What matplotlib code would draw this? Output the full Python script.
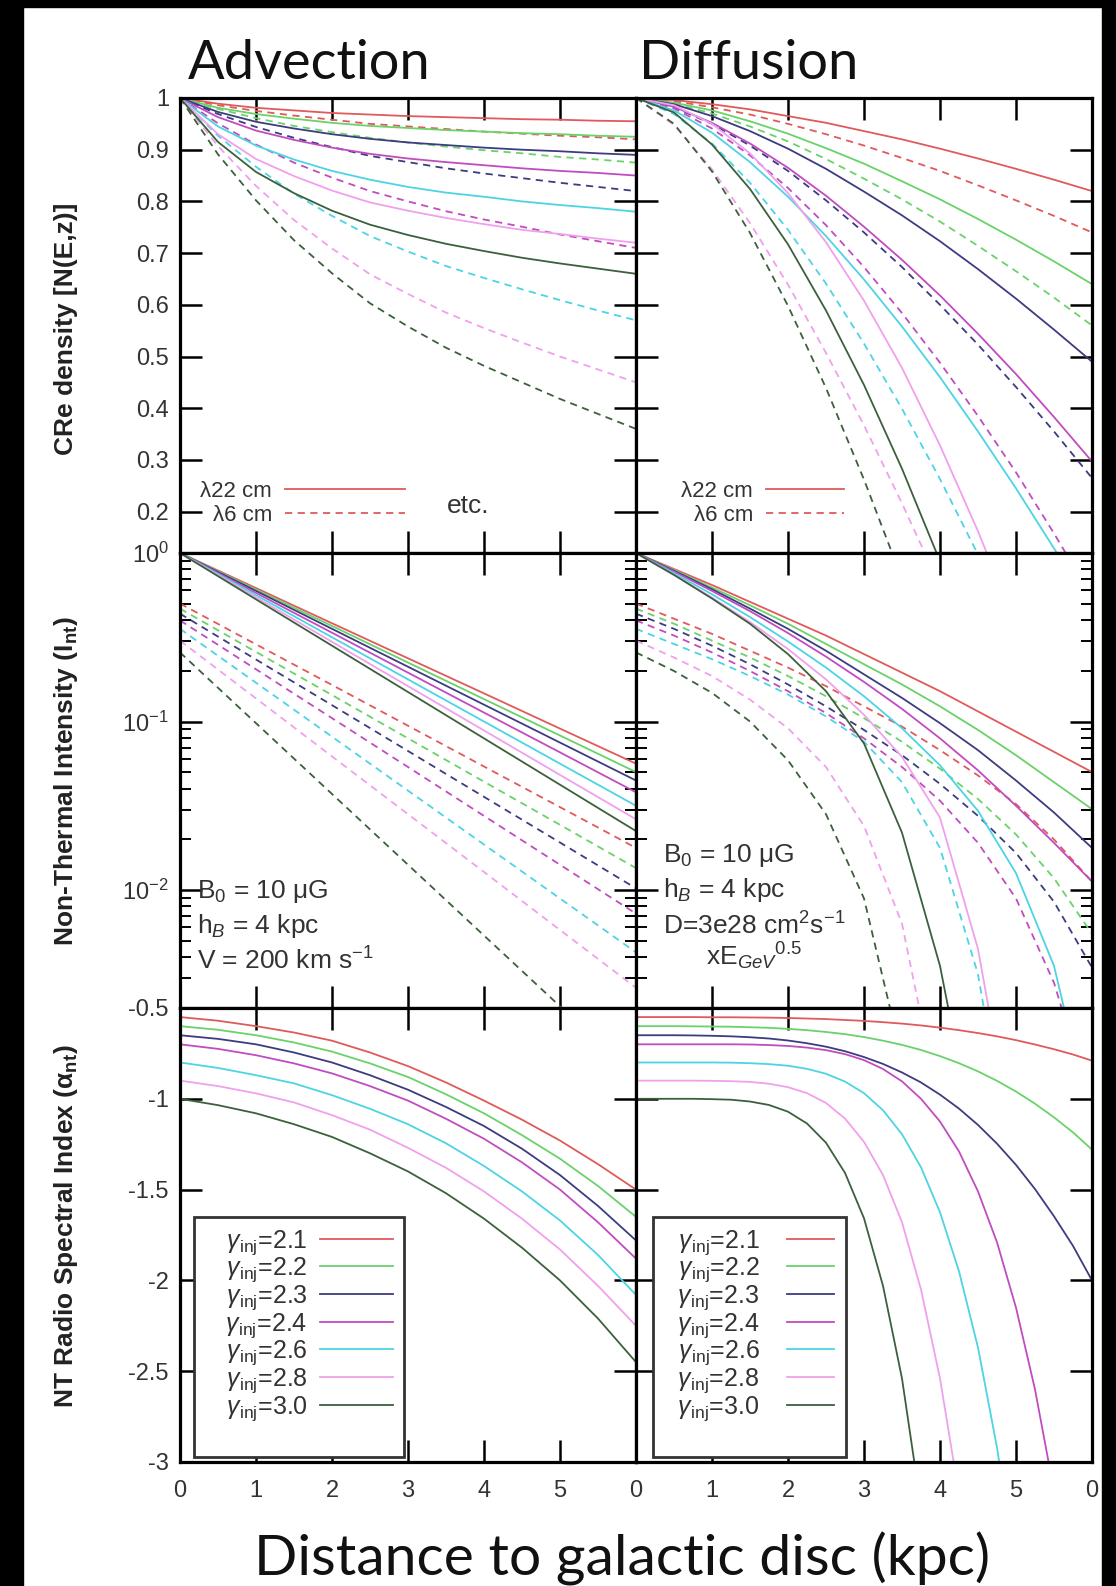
import numpy as np
import matplotlib.pyplot as plt
from matplotlib.lines import Line2D
from matplotlib.patches import Rectangle
from matplotlib.ticker import LogLocator, NullFormatter

plt.rcParams['font.family'] = ['Liberation Sans', 'DejaVu Sans']
plt.rcParams['mathtext.fontset'] = 'custom'
plt.rcParams['mathtext.rm'] = 'Liberation Sans'
plt.rcParams['mathtext.it'] = 'Liberation Sans:italic'
plt.rcParams['mathtext.bf'] = 'Liberation Sans:bold'

# ---- data ----
gammas = ['2.1', '2.2', '2.3', '2.4', '2.6', '2.8', '3.0']
colors = ['#e05a5a', '#6ad26a', '#3c3c80', '#c04cc0', '#4cd4e4', '#f0a0ec', '#3c603c']

z7 = [0, 1, 2, 3, 4, 5, 6]
z13 = [0, 0.5, 1, 1.5, 2, 2.5, 3, 3.5, 4, 4.5, 5, 5.5, 6]
z25 = [0, 0.25, 0.5, 0.75, 1, 1.25, 1.5, 1.75, 2, 2.25, 2.5, 2.75, 3,
       3.25, 3.5, 3.75, 4, 4.25, 4.5, 4.75, 5, 5.25, 5.5, 5.75, 6]

# CRe density, advection (z13)
adv_dens_22 = [
    [1, .989, .981, .976, .971, .968, .965, .963, .961, .959, .958, .956, .955],
    [1, .981, .969, .960, .952, .946, .942, .938, .935, .932, .930, .927, .925],
    [1, .973, .954, .941, .930, .921, .914, .909, .904, .900, .897, .893, .890],
    [1, .963, .937, .919, .904, .892, .883, .876, .870, .864, .859, .855, .850],
    [1, .945, .908, .881, .859, .842, .828, .817, .809, .800, .793, .787, .780],
    [1, .930, .882, .849, .821, .798, .782, .768, .756, .745, .737, .728, .720],
    [1, .915, .857, .816, .782, .755, .735, .718, .704, .691, .680, .670, .660],
]
adv_dens_6 = [
    [1, .986, .975, .966, .958, .950, .945, .940, .935, .931, .927, .924, .920],
    [1, .979, .961, .946, .934, .923, .914, .906, .899, .893, .886, .881, .875],
    [1, .969, .944, .923, .905, .888, .876, .864, .854, .845, .836, .828, .820],
    [1, .951, .910, .875, .846, .820, .800, .781, .765, .751, .736, .723, .710],
    [1, .927, .867, .815, .772, .733, .703, .675, .652, .630, .609, .589, .570],
    [1, .907, .830, .764, .709, .659, .621, .585, .555, .527, .500, .475, .450],
    [1, .891, .802, .725, .661, .603, .558, .517, .482, .450, .418, .389, .360],
]
# CRe density, diffusion (z13)
dif_dens_22 = [
    [1, .996, .988, .978, .965, .952, .936, .920, .902, .883, .863, .842, .820],
    [1, .991, .976, .955, .931, .903, .873, .839, .804, .766, .726, .684, .640],
    [1, .988, .965, .936, .902, .863, .819, .773, .723, .669, .612, .552, .490],
    [1, .983, .952, .912, .865, .811, .751, .687, .618, .544, .466, .383, .297],
    [1, .976, .933, .876, .809, .733, .649, .558, .460, .355, .245, .129, .008],
    [1, .986, .950, .893, .816, .721, .608, .478, .328, .162, -.02, -.22, -.44],
    [1, .972, .910, .824, .717, .589, .445, .283, .104, -.09, -.30, -.50, -.70],
]
dif_dens_6 = [
    [1, .994, .982, .968, .950, .930, .908, .884, .859, .831, .802, .772, .740],
    [1, .989, .970, .945, .916, .882, .844, .804, .761, .714, .665, .614, .560],
    [1, .982, .950, .908, .859, .802, .740, .673, .600, .523, .441, .355, .265],
    [1, .980, .941, .889, .826, .754, .673, .584, .488, .385, .276, .158, .034],
    [1, .969, .912, .836, .745, .641, .525, .399, .263, .117, -.04, -.20, -.40],
    [1, .948, .862, .758, .639, .507, .367, .216, .056, -.11, -.30, -.50, -.70],
    [1, .950, .858, .739, .598, .439, .262, .070, -.136, -.356, -.55, -.75, -.95],
]

# log10 of non-thermal intensity, advection (z7)
adv_int_22 = [
    [0, -.208, -.417, -.625, -.833, -1.042, -1.25],
    [0, -.217, -.433, -.650, -.867, -1.083, -1.30],
    [0, -.225, -.450, -.675, -.900, -1.125, -1.35],
    [0, -.237, -.473, -.710, -.947, -1.183, -1.42],
    [0, -.250, -.500, -.750, -1.000, -1.250, -1.50],
    [0, -.263, -.527, -.790, -1.053, -1.317, -1.58],
    [0, -.275, -.550, -.825, -1.100, -1.375, -1.65],
]
adv_int_6 = [
    [-.30, -.542, -.783, -1.025, -1.267, -1.508, -1.75],
    [-.33, -.587, -.843, -1.100, -1.357, -1.613, -1.87],
    [-.36, -.632, -.903, -1.175, -1.447, -1.718, -1.99],
    [-.40, -.690, -.980, -1.270, -1.560, -1.850, -2.14],
    [-.45, -.770, -1.090, -1.410, -1.730, -2.050, -2.37],
    [-.52, -.863, -1.207, -1.550, -1.893, -2.237, -2.58],
    [-.59, -1.010, -1.430, -1.850, -2.270, -2.690, -3.11],
]
# log10 of non-thermal intensity, diffusion (z13)
dif_int_22 = [
    [0, -.095, -.19, -.29, -.39, -.49, -.60, -.71, -.82, -.94, -1.06, -1.18, -1.30],
    [0, -.10, -.205, -.31, -.42, -.54, -.66, -.78, -.91, -1.05, -1.20, -1.36, -1.52],
    [0, -.105, -.215, -.33, -.45, -.58, -.72, -.86, -1.01, -1.17, -1.35, -1.54, -1.75],
    [0, -.11, -.225, -.345, -.475, -.615, -.765, -.925, -1.10, -1.29, -1.50, -1.72, -1.95],
    [0, -.12, -.245, -.38, -.525, -.68, -.85, -1.04, -1.26, -1.53, -1.90, -2.45, -3.4],
    [0, -.13, -.265, -.41, -.57, -.75, -.96, -1.21, -1.57, -2.35, -3.6, -5, -6],
    [0, -.13, -.27, -.42, -.60, -.82, -1.13, -1.66, -2.45, -3.6, -5, -6, -7],
]
dif_int_6 = [
    [-.30, -.39, -.48, -.58, -.68, -.79, -.91, -1.03, -1.17, -1.32, -1.49, -1.70, -1.95],
    [-.33, -.42, -.52, -.62, -.73, -.85, -.98, -1.12, -1.28, -1.46, -1.67, -1.93, -2.26],
    [-.36, -.45, -.55, -.66, -.78, -.91, -1.05, -1.20, -1.37, -1.56, -1.78, -2.07, -2.46],
    [-.40, -.49, -.59, -.70, -.82, -.95, -1.10, -1.27, -1.47, -1.72, -2.05, -2.55, -3.3],
    [-.45, -.54, -.63, -.73, -.84, -.97, -1.12, -1.36, -1.75, -2.5, -3.8, -5, -6],
    [-.52, -.62, -.73, -.87, -1.04, -1.27, -1.62, -2.2, -3.3, -4.5, -6, -7, -8],
    [-.59, -.70, -.83, -1.00, -1.23, -1.55, -2.05, -3.0, -4.5, -6, -7, -8, -9],
]

# NT spectral index, advection (z13)
adv_alpha = [
    [-.55, -.57, -.60, -.635, -.68, -.745, -.82, -.91, -1.01, -1.115, -1.23, -1.36, -1.50],
    [-.60, -.62, -.65, -.69, -.74, -.805, -.88, -.975, -1.08, -1.20, -1.33, -1.48, -1.65],
    [-.65, -.67, -.70, -.745, -.80, -.87, -.95, -1.045, -1.15, -1.275, -1.42, -1.59, -1.78],
    [-.70, -.725, -.76, -.805, -.86, -.93, -1.01, -1.11, -1.22, -1.35, -1.50, -1.68, -1.88],
    [-.80, -.83, -.87, -.915, -.98, -1.055, -1.14, -1.245, -1.37, -1.51, -1.67, -1.86, -2.08],
    [-.90, -.93, -.97, -1.02, -1.09, -1.17, -1.27, -1.38, -1.51, -1.66, -1.83, -2.03, -2.25],
    [-1.0, -1.035, -1.08, -1.14, -1.21, -1.30, -1.40, -1.52, -1.66, -1.82, -2.0, -2.21, -2.45],
]
# NT spectral index, diffusion (z25)
dif_alpha = [
    [-.55, -.55, -.55, -.55, -.551, -.551, -.552, -.553, -.555, -.558, -.561, -.566, -.571,
     -.578, -.586, -.596, -.608, -.622, -.638, -.656, -.677, -.701, -.727, -.756, -.79],
    [-.60, -.60, -.60, -.601, -.602, -.603, -.606, -.609, -.615, -.622, -.632, -.644, -.66,
     -.68, -.703, -.731, -.765, -.804, -.849, -.901, -.96, -1.027, -1.102, -1.185, -1.28],
    [-.65, -.65, -.65, -.651, -.653, -.656, -.661, -.668, -.679, -.694, -.713, -.738, -.77,
     -.808, -.855, -.91, -.977, -1.054, -1.144, -1.247, -1.364, -1.497, -1.647, -1.81, -2.0],
    [-.70, -.70, -.70, -.70, -.70, -.70, -.701, -.704, -.709, -.718, -.732, -.754, -.787,
     -.836, -.904, -1.0, -1.125, -1.29, -1.51, -1.79, -2.15, -2.6, -3.16, -3.83, -4.6],
    [-.80, -.80, -.80, -.80, -.80, -.801, -.804, -.809, -.818, -.835, -.862, -.905, -.969,
     -1.063, -1.195, -1.377, -1.625, -1.95, -2.37, -2.92, -3.61, -4.5, -5.5, -6.5, -7.5],
    [-.90, -.90, -.90, -.90, -.901, -.903, -.907, -.917, -.936, -.969, -1.023, -1.109, -1.237,
     -1.42, -1.68, -2.05, -2.54, -3.18, -4.0, -5, -6, -7, -8, -9, -10],
    [-1.0, -1.0, -1.0, -1.0, -1.002, -1.005, -1.015, -1.034, -1.071, -1.136, -1.242, -1.408, -1.658,
     -2.03, -2.54, -3.25, -4.2, -5, -6, -7, -8, -9, -10, -11, -12],
]

# ---- figure ----
W, H = 1116, 1586
fig = plt.figure(figsize=(W / 100, H / 100), dpi=100)
fig.patch.set_facecolor('white')

cols = [(180, 636), (636, 1092)]
rows = [(98, 553), (553, 1008), (1008, 1462)]
tick_col = '#333333'
LW = 1.3
DASH = (4, 3)
FS = 17


def make_ax(c, r):
    x0, x1 = cols[c]
    y0, y1 = rows[r]
    ax = fig.add_axes([x0 / W, 1 - y1 / H, (x1 - x0) / W, (y1 - y0) / H])
    ax.set_xlim(0, 6)
    ax.set_xticks(z7)
    ax.tick_params(which='major', direction='in', top=True, right=True,
                   length=16, width=1.8, labelsize=FS, labelcolor=tick_col)
    ax.tick_params(which='minor', direction='in', left=True, right=True,
                   length=8, width=1.4)
    ax.tick_params(axis='x', pad=13)
    ax.tick_params(axis='y', pad=8)
    for s in ax.spines.values():
        s.set_linewidth(2.3)
        s.set_zorder(5)
    if c == 1:
        ax.tick_params(labelleft=False)
    if r < 2:
        ax.tick_params(labelbottom=False)
    else:
        if c == 0:
            ax.set_xticklabels(['0', '1', '2', '3', '4', '5', ''])
        else:
            ax.set_xticklabels(['0', '1', '2', '3', '4', '5', '0'])
    return ax


axes = [[make_ax(c, r) for c in range(2)] for r in range(3)]

# row 1 : CRe density
for c, (d22, d6) in enumerate([(adv_dens_22, adv_dens_6), (dif_dens_22, dif_dens_6)]):
    ax = axes[0][c]
    for i in range(7):
        ax.plot(z13, d22[i], color=colors[i], lw=LW)
        ax.plot(z13, d6[i], color=colors[i], lw=LW, dashes=DASH)
    ax.set_ylim(0.12, 1.0)
    ax.set_yticks([0.2, 0.3, 0.4, 0.5, 0.6, 0.7, 0.8, 0.9, 1.0])
    ax.set_yticklabels(['0.2', '0.3', '0.4', '0.5', '0.6', '0.7', '0.8', '0.9', '1'])

# row 2 : intensity (log)
for c, (d22, d6, zz) in enumerate([(adv_int_22, adv_int_6, z7), (dif_int_22, dif_int_6, z13)]):
    ax = axes[1][c]
    for i in range(7):
        ax.plot(zz, 10 ** np.array(d22[i]), color=colors[i], lw=LW)
        ax.plot(zz, 10 ** np.array(d6[i]), color=colors[i], lw=LW, dashes=DASH)
    ax.set_yscale('log')
    ax.set_ylim(10 ** -2.7, 1.0)
    ax.yaxis.set_major_locator(LogLocator(base=10))
    ax.yaxis.set_minor_locator(LogLocator(base=10, subs=np.arange(2, 10)))
    ax.yaxis.set_minor_formatter(NullFormatter())

# row 3 : spectral index
handles = []
for c, (dd, zz) in enumerate([(adv_alpha, z13), (dif_alpha, z25)]):
    ax = axes[2][c]
    hs = []
    for i in range(7):
        ln, = ax.plot(zz, dd[i], color=colors[i], lw=LW)
        hs.append(ln)
    handles.append(hs)
    ax.set_ylim(-3, -0.5)
    ax.set_yticks([-3, -2.5, -2, -1.5, -1, -0.5])
    ax.set_yticklabels(['-3', '-2.5', '-2', '-1.5', '-1', '-0.5'])

# legends
h22 = Line2D([], [], color=colors[0], lw=LW)
h6 = Line2D([], [], color=colors[0], lw=LW, dashes=DASH)
for c, (hl, ax0) in enumerate([(5.4, 0.02), (3.5, 0.075)]):
    leg = axes[0][c].legend([h22, h6], ['λ22 cm', 'λ6 cm'], loc='lower left',
                            bbox_to_anchor=(ax0, 0.035), frameon=False, markerfirst=False,
                            fontsize=16, handlelength=hl, handletextpad=0.6,
                            labelspacing=0.15, borderpad=0.0)
    for t in leg.get_texts():
        t.set_color(tick_col)
axes[0][0].text(0.632, 0.103, 'etc.', transform=axes[0][0].transAxes, fontsize=19,
                color=tick_col, ha='center', va='center')

blank = Line2D([], [], color='none')
for c, (anchor, lead, hl, tp) in enumerate([((0.031, 0.011), '   ', 2.9, 0.5),
                                            ((0.037, 0.011), '  ', 1.9, 1.1)]):
    labels = [lead + r'$\gamma_{\rm inj}$=' + g for g in gammas] + ['']
    leg = axes[2][c].legend(handles[c] + [blank], labels, loc='lower left',
                            bbox_to_anchor=anchor, markerfirst=False,
                            fontsize=18, handlelength=hl,
                            handletextpad=tp, labelspacing=-0.04, borderpad=0.45,
                            borderaxespad=0.0, fancybox=False, framealpha=1,
                            edgecolor='#333333')
    leg.get_frame().set_linewidth(2.0)
    for t in leg.get_texts():
        t.set_color(tick_col)

# annotations
a = axes[1][0]
for y, s in [(0.255, r'B$_0$ = 10 μG'), (0.18, r'h$_B$ = 4 kpc'), (0.103, r'V = 200 km s$^{-1}$')]:
    a.text(0.037, y, s, transform=a.transAxes, fontsize=19, color=tick_col, va='center')
a = axes[1][1]
for x, y, s in [(0.059, 0.336, r'B$_0$ = 10 μG'), (0.059, 0.259, r'h$_B$ = 4 kpc'),
                (0.059, 0.180, r'D=3e28 cm$^2$s$^{-1}$'), (0.154, 0.114, r'xE$_{GeV}$$^{0.5}$')]:
    a.text(x, y, s, transform=a.transAxes, fontsize=19, color=tick_col, va='center')

# axis labels
ylabels = ['CRe density [N(E,z)]', r'Non-Thermal Intensity (I$_\mathbf{nt}$)',
           r'NT Radio Spectral Index ($\mathbf{\alpha_{nt}}$)']
for y, s in zip([1 - 329 / H, 1 - 781 / H, 1 - 1226 / H], ylabels):
    fig.text(66 / W, y, s, rotation=90, ha='center', va='center', fontsize=19,
             fontweight='bold', color='#222222')

fig.text(309 / W, 1 - 79 / H, 'Advection', family=['Lato', 'DejaVu Sans'], fontsize=39,
         ha='center', va='baseline', color='#111111')
fig.text(749 / W, 1 - 79 / H, 'Diffusion', family=['Lato', 'DejaVu Sans'], fontsize=39,
         ha='center', va='baseline', color='#111111')
fig.text(622 / W, 1 - 1576 / H, 'Distance to galactic disc (kpc)', family=['Lato', 'DejaVu Sans'],
         fontsize=41, ha='center', va='baseline', color='#111111')

# black frame of the scan
for rect in [(0, 0, 23 / W, 1), (0, 1 - 7 / H, 1, 7 / H), (1102 / W, 0, 1 - 1102 / W, 1)]:
    fig.patches.append(Rectangle(rect[:2], rect[2], rect[3], transform=fig.transFigure,
                                 color='black', zorder=10))

fig.savefig('out.png', dpi=100)
